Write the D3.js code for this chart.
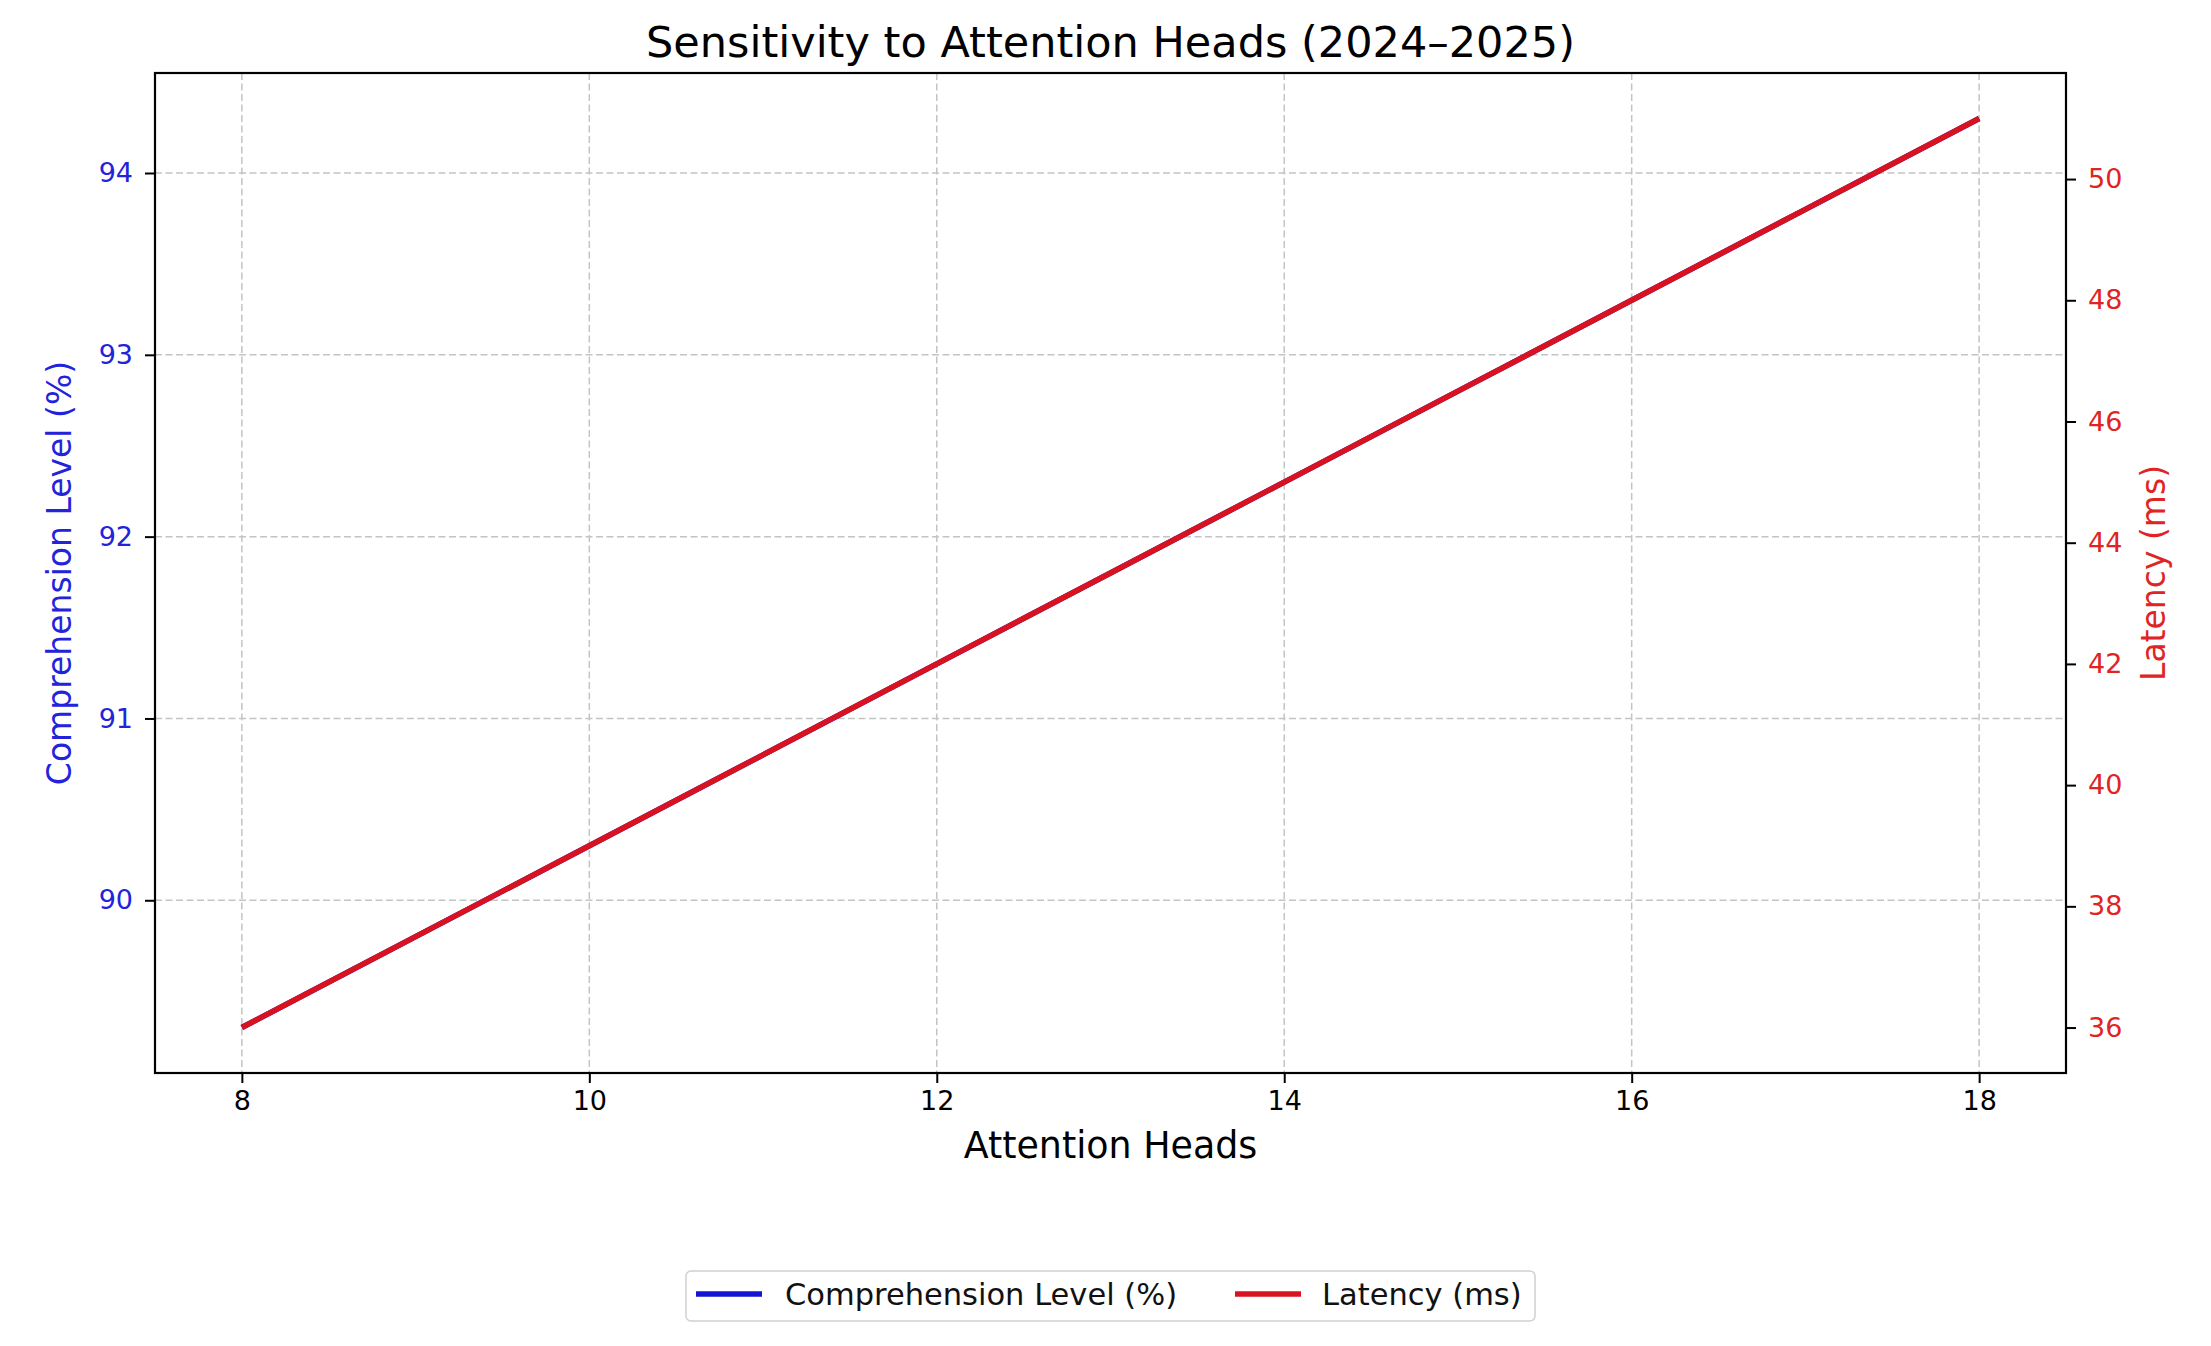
<!DOCTYPE html>
<html>
<head>
<meta charset="utf-8">
<script src="https://cdn.jsdelivr.net/npm/d3@7"></script>
<style>
  html, body { margin: 0; padding: 0; background: #fff; }
  svg { display: block; font-family: "DejaVu Sans", sans-serif; }
</style>
</head>
<body>
<svg id="chart" width="2211" height="1346"></svg>
<script>
// ---- data ----
const heads = [8, 9, 10, 11, 12, 13, 14, 15, 16, 17, 18];
const comprehension = [89.3, 89.8, 90.3, 90.8, 91.3, 91.8, 92.3, 92.8, 93.3, 93.8, 94.3];
const latency = [36, 37.5, 39, 40.5, 42, 43.5, 45, 46.5, 48, 49.5, 51];
const xTicks = [8, 10, 12, 14, 16, 18];
const leftTicks = [90, 91, 92, 93, 94];
const rightTicks = [36, 38, 40, 42, 44, 46, 48, 50];
const seriesNames = ["Comprehension Level (%)", "Latency (ms)"];
const titleText = "Sensitivity to Attention Heads (2024\u20132025)";

// ---- layout ----
const plot = { left: 155, right: 2066, top: 73, bottom: 1073 };
const blue = "#1414d4", red = "#d8131f";
const blueText = "#2323dc", redText = "#e02424";
const tickFont = 27;

const svg = d3.select("#chart");

const pad = (lo, hi) => { const m = (hi - lo) * 0.05; return [lo - m, hi + m]; };
const x = d3.scaleLinear().domain(pad(d3.min(heads), d3.max(heads))).range([plot.left, plot.right]);
const yL = d3.scaleLinear().domain(pad(d3.min(comprehension), d3.max(comprehension))).range([plot.bottom, plot.top]);
const yR = d3.scaleLinear().domain(pad(d3.min(latency), d3.max(latency))).range([plot.bottom, plot.top]);

// grid
const grid = svg.append("g").attr("stroke", "#c4c4c4").attr("stroke-width", 1.5).attr("stroke-dasharray", "7,3.5");
grid.selectAll("line.v").data(xTicks).join("line")
  .attr("x1", d => x(d)).attr("x2", d => x(d)).attr("y1", plot.top).attr("y2", plot.bottom);
grid.selectAll("line.h").data(leftTicks).join("line")
  .attr("y1", d => yL(d)).attr("y2", d => yL(d)).attr("x1", plot.left).attr("x2", plot.right);

// lines
const lineL = d3.line().x((d, i) => x(heads[i])).y(d => yL(d));
const lineR = d3.line().x((d, i) => x(heads[i])).y(d => yR(d));
svg.append("path").datum(comprehension).attr("d", lineL)
  .attr("fill", "none").attr("stroke", blue).attr("stroke-width", 5.5);
svg.append("path").datum(latency).attr("d", lineR)
  .attr("fill", "none").attr("stroke", red).attr("stroke-width", 5.5);

// axes
const xAxis = svg.append("g").attr("transform", `translate(0,${plot.bottom})`)
  .call(d3.axisBottom(x).tickValues(xTicks).tickFormat(d3.format("d")).tickSize(10).tickPadding(8));
xAxis.selectAll("text").attr("font-size", tickFont).attr("fill", "#000").attr("font-family", "DejaVu Sans");

const leftAxis = svg.append("g").attr("transform", `translate(${plot.left},0)`)
  .call(d3.axisLeft(yL).tickValues(leftTicks).tickFormat(d3.format("d")).tickSize(10).tickPadding(12));
leftAxis.selectAll("text").attr("font-size", tickFont).attr("fill", blueText).attr("font-family", "DejaVu Sans");

const rightAxis = svg.append("g").attr("transform", `translate(${plot.right},0)`)
  .call(d3.axisRight(yR).tickValues(rightTicks).tickFormat(d3.format("d")).tickSize(10).tickPadding(12));
rightAxis.selectAll("text").attr("font-size", tickFont).attr("fill", redText).attr("font-family", "DejaVu Sans");

[xAxis, leftAxis, rightAxis].forEach(a => {
  a.select(".domain").remove();
  a.selectAll(".tick line").attr("stroke", "#000").attr("stroke-width", 2);
});

// frame
svg.append("rect").attr("x", plot.left).attr("y", plot.top)
  .attr("width", plot.right - plot.left).attr("height", plot.bottom - plot.top)
  .attr("fill", "none").attr("stroke", "#000").attr("stroke-width", 2.2);

// title & labels
svg.append("text").attr("x", (plot.left + plot.right) / 2).attr("y", 57)
  .attr("text-anchor", "middle").attr("font-size", 43).attr("fill", "#000").text(titleText);
svg.append("text").attr("x", (plot.left + plot.right) / 2).attr("y", 1158)
  .attr("text-anchor", "middle").attr("font-size", 36.4).attr("fill", "#000").text("Attention Heads");
svg.append("text").attr("transform", `translate(71,${(plot.top + plot.bottom) / 2}) rotate(-90)`)
  .attr("text-anchor", "middle").attr("font-size", 33).attr("fill", blueText).text(seriesNames[0]);
svg.append("text").attr("transform", `translate(2165,${(plot.top + plot.bottom) / 2}) rotate(-90)`)
  .attr("text-anchor", "middle").attr("font-size", 33).attr("fill", redText).text(seriesNames[1]);

// legend
const lg = svg.append("g");
lg.append("rect").attr("x", 686).attr("y", 1271).attr("width", 849).attr("height", 50)
  .attr("rx", 5).attr("fill", "#fff").attr("stroke", "#d0d0d0").attr("stroke-width", 1.5);
const legendItems = [
  { name: seriesNames[0], color: blue, lx: 696, tx: 785 },
  { name: seriesNames[1], color: red, lx: 1235, tx: 1322 }
];
legendItems.forEach(it => {
  lg.append("line").attr("x1", it.lx).attr("x2", it.lx + 66).attr("y1", 1294).attr("y2", 1294)
    .attr("stroke", it.color).attr("stroke-width", 5.5);
  lg.append("text").attr("x", it.tx).attr("y", 1305).attr("font-size", 30.5).attr("fill", "#111").text(it.name);
});
</script>
</body>
</html>
